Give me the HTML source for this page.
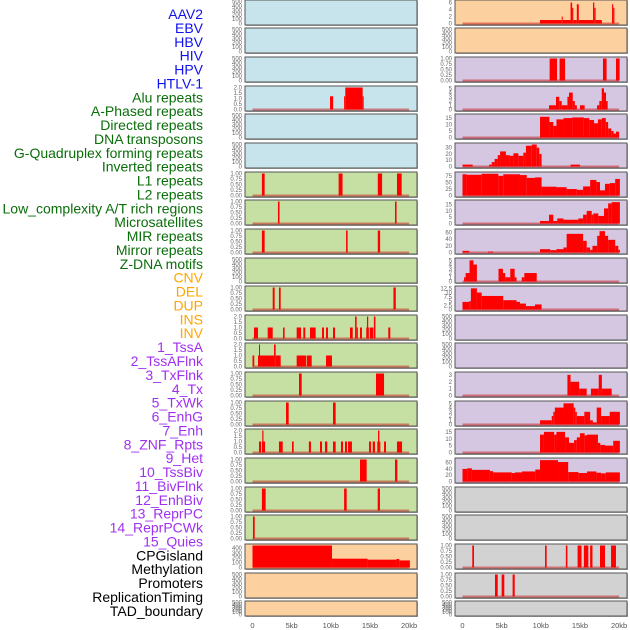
<!DOCTYPE html>
<html><head><meta charset="utf-8"><style>
html,body{margin:0;padding:0;background:#fff;}
svg{display:block;font-family:"Liberation Sans",sans-serif;}
</style></head><body>
<svg id="chart" width="630" height="630" viewBox="0 0 630 630"></svg>
<script>
const trackNames=["AAV2","EBV","HBV","HIV","HPV","HTLV-1","Alu repeats","A-Phased repeats","Directed repeats","DNA transposons","G-Quadruplex forming repeats","Inverted repeats","L1 repeats","L2 repeats","Low_complexity A/T rich regions","Microsatellites","MIR repeats","Mirror repeats","Z-DNA motifs","CNV","DEL","DUP","INS","INV","1_TssA","2_TssAFlnk","3_TxFlnk","4_Tx","5_TxWk","6_EnhG","7_Enh","8_ZNF_Rpts","9_Het","10_TssBiv","11_BivFlnk","12_EnhBiv","13_ReprPC","14_ReprPCWk","15_Quies","CPGisland","Methylation","Promoters","ReplicationTiming","TAD_boundary"];
const trackGroups=[6,13,5,15,5];
const groupColors=["#1010ee","#0a6e0a","#ffa500","#a030f0","#000000"];
const xTickLabels=["0","5kb","10kb","15kb","20kb"];
const xTickValues=[0,5,10,15,20];
const E=[0,100,200,300,400,500];
const U=[0,0.25,0.5,0.75,1];
const T2=[0,0.5,1,1.5,2];
// panel max, ticks, colour index (0 blue,1 green,2 orange,3 purple,4 gray)
const panelMax=[500,500,500,2,500,500,1,1,1,500,1,2,2,1,1,2,1,1,1,450,500,500,
 6.3,500,1,5.2,17,35,85,17.5,66,5.2,13,500,500,3.2,5.2,16,70,500,500,1,1,500];
const panelTicks=[E,E,E,T2,E,E,U,U,U,E,U,T2,T2,U,U,T2,U,U,U,[0,100,200,300,400],E,E,
 [0,2,4,6],E,U,[0,1,2,3,4,5],[0,5,10,15],[0,10,20,30],[0,25,50,75],[0,5,10,15],[0,20,40,60],[0,1,2,3,4,5],[0,2.5,5,7.5,10,12.5],E,E,[0,1,2,3],[0,1,2,3,4,5],[0,5,10,15],[0,20,40,60],E,E,U,U,E];
const panelColor=[0,0,0,0,0,0,1,1,1,1,1,1,1,1,1,1,1,1,1,2,2,2,
 2,2,3,3,3,3,3,3,3,3,3,3,3,3,3,3,3,4,4,4,4,4];
// bars: [startKb, endKb, value]
const panelBars=[
[],[],[],
[[9.9,10.3,1.2],[11.7,11.85,1.2],[11.85,14.07,2],[14.07,14.2,1.2]],
[],[],
[[1.2,1.55,1],[11.0,11.5,1],[16.0,16.55,1],[18.45,19.05,1]],
[[3.25,3.45,1],[18.2,18.4,1]],
[[1.2,1.55,1],[11.95,12.15,1],[16.0,16.3,1]],
[],
[[2.58,2.83,1],[3.38,3.6,1],[18.0,18.3,1]],
[[0.19,0.7,1],[1.94,2.58,1],[3.9,4.1,1],[5.64,6.2,1],[6.49,6.74,1],[7.34,8.07,1],[8.88,9.13,1],[9.39,9.64,1],[10.28,10.54,1],[12.45,12.8,1],[13.1,13.3,2],[13.3,13.45,1],[13.73,13.98,1],[14.53,14.62,1],[14.62,14.78,2],[14.78,14.84,1],[15.0,15.43,1],[15.5,15.7,2],[17.34,17.6,1]],
[[0,0.23,1],[0.7,0.83,1],[0.83,0.96,2],[0.96,2.75,1],[2.75,2.96,2],[2.96,3.6,1],[5.64,6.83,1],[6.92,7.56,1],[9.39,10.15,1]],
[[5.94,6.28,1],[15.77,16.8,1]],
[[4.28,4.62,1],[10.28,10.62,1]],
[[0.83,1.09,1],[1.2,1.25,1],[1.25,1.4,2],[1.4,1.6,1],[3.38,3.86,1],[5.04,5.26,1],[7.2,7.47,1],[8.62,8.88,1],[9.26,9.55,1],[10.28,10.62,1],[11.3,11.56,1],[11.81,12.07,1],[12.2,12.7,1],[14.88,15.13,1],[15.35,15.64,1],[15.94,16.03,1],[16.03,16.2,2],[16.2,16.28,1],[16.8,17.05,1],[18.45,19.1,1]],
[[13.73,14.58,1],[18.2,18.5,1]],
[[1.2,1.68,1],[11.7,12.03,1],[15.99,16.28,1]],
[[0.06,0.28,1]],
[[0,10.15,450],[10.15,14.7,180],[14.7,18.4,160],[18.4,18.75,175],[18.75,20.1,145]],
[],[],
// right column
[[9.9,12.67,1],[12.67,12.8,2],[12.8,13.8,1],[13.8,14.0,6],[14.0,14.15,4.5],[14.15,14.6,1],[14.6,14.85,5.5],[14.85,16.67,1],[16.67,16.83,6],[16.83,17.0,4.5],[17.0,17.8,1],[19.1,19.25,5.5],[19.25,19.4,4.5]],
[],
[[11.13,12.07,1],[12.4,13.1,1],[17.94,18.4,1],[19.6,20.07,1]],
[[11.05,11.94,1],[11.94,12.36,3],[12.36,12.67,2],[12.67,13.4,1],[13.4,13.6,3],[13.6,14.08,4],[14.08,14.35,2],[14.35,14.6,1],[15.0,15.6,1],[17.18,17.47,1],[17.47,17.78,2],[17.78,18.07,5],[18.07,18.33,4],[18.33,18.54,2]],
[[9.9,11.1,16],[11.1,11.6,12],[11.6,12.0,9],[12.0,12.9,14],[12.9,14.0,15],[14.0,15.5,15.5],[15.5,16.2,15],[16.2,16.8,13.5],[16.8,17.3,11],[17.3,17.8,14],[17.8,18.3,15],[18.3,18.6,12],[18.6,19.0,7],[19.0,19.3,5],[19.3,19.6,3],[19.6,20.0,4.5]],
[[0,1.3,3],[3.4,3.73,3],[3.73,4.1,7],[4.1,4.5,12],[4.5,4.8,18],[4.8,5.55,24],[5.55,6.05,18],[6.05,6.5,17],[6.5,7.13,21],[7.13,7.77,17],[7.77,8.1,22],[8.1,8.84,33],[8.84,9.48,35],[9.48,9.8,30],[9.8,10.1,20],[13.8,15.0,3]],
[[0,0.53,82],[0.53,2.45,80],[2.45,4.58,84],[4.58,5.21,76],[5.21,7.34,82],[7.34,8.2,79],[8.2,9.26,68],[9.26,10.1,70],[10.1,12.0,34],[12.0,13.3,32],[13.3,14.6,25],[14.6,15.4,22],[15.4,16.3,35],[16.3,17.1,60],[17.1,17.56,52],[17.56,18.2,20],[18.2,18.8,45],[18.8,19.5,48],[19.5,20.1,64]],
[[9.9,11.05,2],[11.05,11.6,7],[11.6,12.1,2],[12.1,12.9,4],[12.9,14.8,3],[14.8,15.4,4],[15.4,15.86,7],[15.86,16.5,10],[16.5,16.7,7],[16.7,17.35,8],[17.35,18.07,6],[18.07,18.6,12],[18.6,19.05,16],[19.05,20.1,17]],
[[0,0.85,5],[3.25,3.9,3],[9.9,11.2,10],[11.2,12.0,7],[12.0,12.9,10],[12.9,13.3,15],[13.3,15.4,56],[15.4,15.86,35],[15.86,16.3,15],[16.3,16.6,8],[16.6,17.2,20],[17.2,17.5,50],[17.5,18.2,64],[18.2,18.6,50],[18.6,19.5,38],[19.5,19.9,20],[19.9,20.1,8]],
[[0.2,0.4,1],[0.4,0.9,2],[0.9,1.4,5],[1.4,1.84,4],[4.6,5.17,3],[5.17,5.46,2],[5.46,6.1,1],[6.1,6.66,3],[6.66,6.9,1],[7.57,7.9,1],[7.9,9.48,2]],
[[0,0.88,4.5],[0.88,1.07,5],[1.07,1.84,12.5],[1.84,2.45,10],[2.45,5.2,8],[5.2,6.9,5.5],[6.9,7.34,4.5],[7.34,8.1,3.5],[8.1,9.26,2],[9.26,10.1,3]],
[],[],
[[13.4,13.8,3],[13.8,14.9,2],[14.9,15.86,1],[16.4,17.4,1],[17.4,17.8,3],[17.8,19.05,1]],
[[9.9,11.4,1],[11.4,11.6,2],[11.6,11.8,3],[11.8,12.9,4],[12.9,14.2,5],[14.2,14.4,4],[14.4,14.6,3],[14.6,15.56,2],[15.56,16.3,3],[16.3,16.65,1],[16.65,17.14,0.5],[17.14,17.7,4],[17.7,18.8,2],[18.8,20.1,3]],
[[9.9,10.4,13],[10.4,11.7,15],[11.7,12.0,13],[12.0,13.1,15],[13.1,13.6,11],[13.6,14.25,7],[14.25,14.6,9],[14.6,15.0,11],[15.0,15.6,14],[15.6,15.9,12.5],[15.9,17.3,13],[17.3,17.6,7],[17.6,18.2,5.5],[18.2,19.25,5],[19.25,20.1,8.5]],
[[0,0.6,40],[0.6,1.2,42],[1.2,3.5,37],[3.5,3.9,33],[3.9,6.3,29],[6.3,6.7,27],[6.7,7.6,29],[7.6,9.3,32],[9.3,9.9,38],[9.9,12.2,68],[12.2,13.5,62],[13.5,14.8,30],[14.8,15.9,27],[15.9,17.1,32],[17.1,17.7,28],[17.7,18.3,26],[18.3,20.1,29]],
[],[],
[[1.25,1.47,1],[10.54,10.75,1],[13.2,13.4,1],[14.7,15.2,1],[15.5,16.07,1],[16.3,16.6,1],[17.56,18.2,1],[18.97,19.6,1]],
[[4.15,4.5,1],[5.0,5.34,1],[6.4,6.67,1]],
[]
];
const bgColors=["#c7e3eb","#c6e0a4","#fdd0a0","#d5c6e1","#d2d2d2"];
const rowTops=[0,28,57,86,114,143,172,200,229,258,286,315,343,372,401,429,458,487,515,544,573,601];
const NS="http://www.w3.org/2000/svg";
const svg=document.getElementById('chart');
function mk(tag,attrs,parent){const e=document.createElementNS(NS,tag);for(const k in attrs)e.setAttribute(k,attrs[k]);(parent||svg).appendChild(e);return e;}
// labels
let gi=0,cnt=0;
trackNames.forEach((n,i)=>{
  while(cnt>=trackGroups[gi]){cnt-=trackGroups[gi];gi++;}
  const t=mk('text',{x:203,y:14+i*13.88+5,'text-anchor':'end','font-size':'14',fill:groupColors[gi]});
  
  
  t.textContent=n;cnt++;
});
const colX=[245,455];const PW=172;
function xScale(col,kb){return colX[col]+7.5+kb*7.83;}
panelBars.forEach((bars,p)=>{
  const col=p<22?0:1, r=p%22;
  const top=rowTops[r], h=(r===21)?15:25, x0=colX[col];
  const g=mk('g',{});
  
  
  mk('rect',{x:x0+1,y:top+1,width:PW,height:h,fill:'#aaa'},g);
  mk('rect',{x:x0,y:top,width:PW,height:h,fill:bgColors[panelColor[p]],stroke:'#555','stroke-width':1},g);
  const yMax=panelMax[p];
  const yScale=v=>top+h-1.5-(v/yMax)*(h-3);
  panelTicks[p].forEach(v=>{
    const t=mk('text',{x:x0-3,y:yScale(v)+2,'text-anchor':'end','font-size':'6',fill:'#666'},g);
    
    
    t.textContent=(panelTicks[p]===U)?v.toFixed(2):(panelTicks[p]===T2?v.toFixed(1):String(v));
  });
  if(bars.length){
    mk('rect',{x:xScale(col,0),y:yScale(0)-1,width:xScale(col,20)-xScale(col,0),height:2,fill:'rgba(200,0,0,0.45)'},g);
  }
  bars.forEach(b=>{
    const r2=mk('rect',{x:xScale(col,b[0]),y:yScale(b[2]),width:Math.max(1,xScale(col,b[1])-xScale(col,b[0])),height:yScale(0)-yScale(b[2]),fill:'#ff0000'},g);
    
    
  });
});
[0,1].forEach(col=>{
  xTickValues.forEach((v,i)=>{
    const t=mk('text',{x:xScale(col,v),y:628,'text-anchor':'middle','font-size':'7.5',fill:'#555'});
    
    
    t.textContent=xTickLabels[i];
  });
});
</script>
</body></html>
